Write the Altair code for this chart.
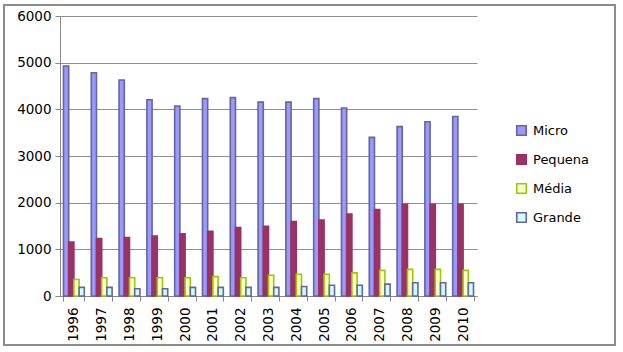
import altair as alt
import pandas as pd

years = [str(y) for y in range(1996, 2011)]
series = ["Micro", "Pequena", "Média", "Grande"]
micro = [4930, 4785, 4630, 4205, 4070, 4230, 4255, 4155, 4155, 4230, 4030, 3400, 3630, 3735, 3845]
pequena = [1155, 1230, 1255, 1285, 1335, 1385, 1465, 1495, 1595, 1630, 1755, 1855, 1965, 1965, 1965]
media = [355, 390, 390, 390, 390, 415, 390, 445, 465, 465, 495, 550, 570, 570, 550]
grande = [185, 185, 155, 155, 185, 185, 185, 185, 205, 230, 230, 255, 285, 285, 285]

fills = ["#9999ff", "#993366", "#ffffcc", "#ccffff"]
strokes = ["#666699", "#993366", "#99cc00", "#666699"]

rows = []
for name, vals in zip(series, [micro, pequena, media, grande]):
    for y, v in zip(years, vals):
        rows.append({"Ano": y, "Porte": name, "Valor": v})
df = pd.DataFrame(rows)

bars = alt.Chart(df).mark_bar(strokeWidth=1.6).encode(
    x=alt.X("Ano:N", sort=years, title=None,
            scale=alt.Scale(paddingInner=0.25, paddingOuter=0.125),
            axis=alt.Axis(labelAngle=-90, labelFontSize=13.5, labelColor="black",
                          labelFont="DejaVu Sans", tickBand="extent", tickSize=5,
                          tickColor="#888888", domainColor="#888888", labelPadding=6,
                          labelBaseline="middle", labelAlign="right")),
    xOffset=alt.XOffset("Porte:N", sort=series, scale=alt.Scale(domain=series, paddingInner=0, paddingOuter=0)),
    y=alt.Y("Valor:Q", title=None,
            scale=alt.Scale(domain=[0, 6000]),
            axis=alt.Axis(values=[0, 1000, 2000, 3000, 4000, 5000, 6000], format="d",
                          labelFontSize=13.5, labelColor="black", labelFont="DejaVu Sans",
                          tickSize=5, tickColor="#888888", domainColor="#888888",
                          gridColor="#8f8f8f", gridWidth=1.2, labelPadding=4)),
    fill=alt.Fill("Porte:N", sort=series, title=None,
                  scale=alt.Scale(domain=series, range=fills),
                  legend=alt.Legend(orient="none", legendX=455, legendY=108,
                                    symbolType="square", symbolSize=90,
                                    symbolStrokeWidth=1.6, labelFontSize=13,
                                    labelFont="DejaVu Sans", labelColor="black",
                                    rowPadding=12, labelOffset=5)),
    stroke=alt.Stroke("Porte:N", sort=series, title=None,
                      scale=alt.Scale(domain=series, range=strokes)),
)

frame = alt.Chart(pd.DataFrame({"a": [0]})).mark_rect(
    fill=None, stroke="#8c8c8c", strokeWidth=2
).encode(x=alt.value(-56), x2=alt.value(555), y=alt.value(-11), y2=alt.value(329))

chart = alt.layer(bars, frame).properties(
    width=417, height=280,
    padding={"left": 60, "top": 16, "right": 146, "bottom": 56},
    autosize=alt.AutoSizeParams(type="none"),
    background="white",
).configure_view(stroke=None)

chart.save("out.html", embed_options={"renderer": "svg", "actions": False})
